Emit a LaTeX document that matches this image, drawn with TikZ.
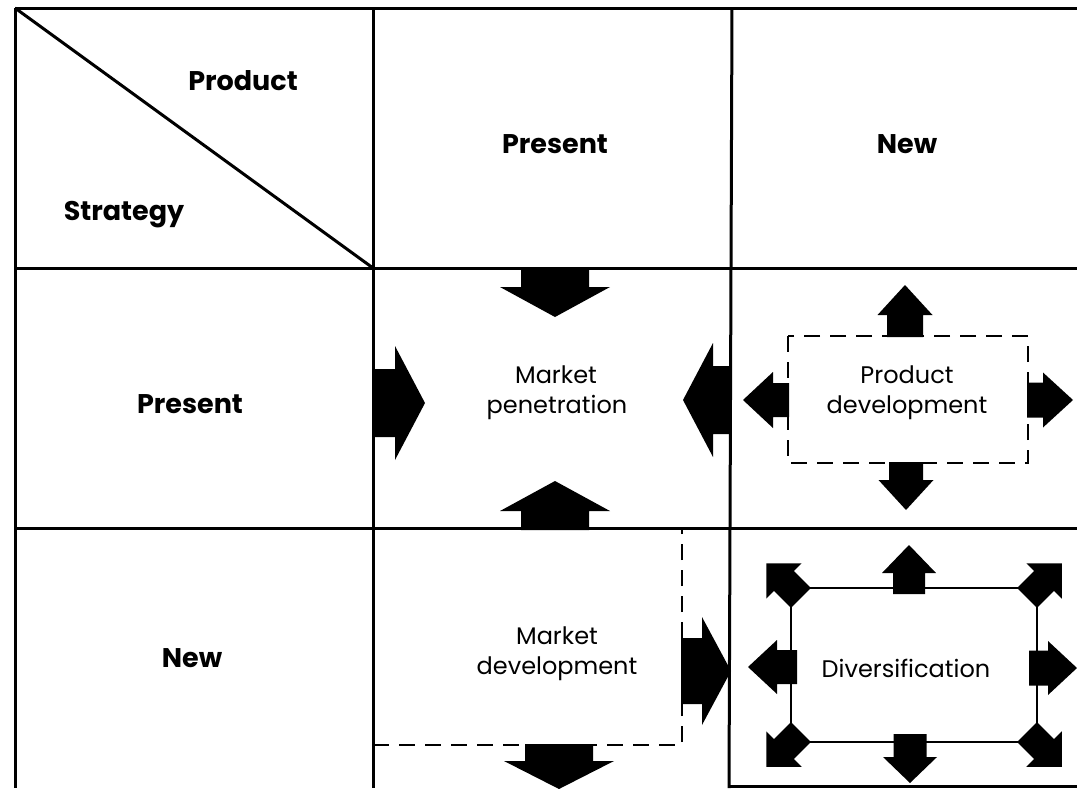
\documentclass[tikz,border=0pt]{standalone}
\usepackage{fontspec}
\setmainfont{Poppins}
\begin{document}
% Block arrow: origin, direction angle, shaft start, shaft end (= head base),
% shaft half-width, tip distance, head half-width
\newcommand\blockarr[7]{%
  \fill[arrowfill, shift={#1}, rotate=#2]
    (#3,-#5) -- (#4,-#5) -- (#4,-#7) -- (#6,0) -- (#4,#7) -- (#4,#5) -- (#3,#5) -- cycle;}
\begin{tikzpicture}[x=1pt,y=-1pt,
  grid/.style={line width=3pt},
  solidbox/.style={line width=1.6pt},
  dashbox/.style={line width=1.6pt, dash pattern=on 16pt off 10pt},
  hdr/.style={font=\fontsize{27}{30}\selectfont\bfseries, anchor=base, inner sep=0pt},
  lbl/.style={font=\fontsize{24}{30}\selectfont, anchor=base, inner sep=0pt},
  arrowfill/.style={fill=black}]
\useasboundingbox (0,0) rectangle (1077,788);

% grid corners
\coordinate (tl) at (15,8);
\coordinate (tr) at (1077,8);
\coordinate (c1t) at (373,8);
\coordinate (c2t) at (732,8);
\coordinate (r1l) at (15,268);
\coordinate (r1m) at (373,268);
\coordinate (r1r) at (1077,268);
\coordinate (r2l) at (15,528);
\coordinate (r2r) at (1077,528);
\coordinate (bl) at (15,788);
\coordinate (c1b) at (373,788);
\coordinate (c2b) at (729,788);
\coordinate (brl) at (729,786);
\coordinate (brr) at (1077,786);

% table rules
\draw[grid] (tl) -- (tr);
\draw[grid] (r1l) -- (r1r);
\draw[grid] (r2l) -- (r2r);
\draw[grid] (brl) -- (brr);
\draw[grid] (tl) -- (bl);
\draw[grid] (c1t) -- (c1b);
\draw[grid] (c2t) -- (c2b);
\draw[grid] (tl) -- (r1m);

% headings
\node[hdr] (hprod) at (243,90) {Product};
\node[hdr] (hstrat) at (124,220) {Strategy};
\node[hdr] (colpres) at (555,153) {Present};
\node[hdr] (colnew) at (907,153) {New};
\node[hdr] (rowpres) at (190,413) {Present};
\node[hdr] (rownew) at (192,667) {New};

% market penetration
\node[lbl] (mp1) at (556,383) {Market};
\node[lbl] (mp2) at (557,413) {penetration};
\blockarr{(555,268)}{270}{0}{19}{34}{49}{55}
\blockarr{(555,530)}{90}{0}{19}{34}{49}{55}
\blockarr{(373,403)}{0}{0}{22}{34}{52}{57}
\blockarr{(731,400)}{180}{0}{18}{34}{48}{57}

% product development
\coordinate (pdA) at (788,336);
\coordinate (pdB) at (1028,463);
\draw[dashbox] (pdA) rectangle (pdB);
\node[lbl] (pd1) at (907,383) {Product};
\node[lbl] (pd2) at (907,413) {development};
\blockarr{(905,337)}{90}{0}{22}{18}{52}{27.5}
\blockarr{(906,462)}{270}{0}{18}{17}{48}{27.5}
\blockarr{(789,400)}{180}{0}{16}{17}{46}{28}
\blockarr{(1027,400)}{0}{0}{16}{17.5}{46}{27.5}

% market development
\coordinate (mdA) at (373,745);
\coordinate (mdB) at (682,745);
\coordinate (mdC) at (682,530);
\draw[dashbox] (mdA) -- (mdB) -- (mdC);
\node[lbl] (md1) at (557,644) {Market};
\node[lbl] (md2) at (557,674) {development};
\blockarr{(681,671)}{0}{0}{21}{33}{50}{54}
\blockarr{(559,744)}{270}{0}{17}{34}{45}{55}

% diversification
\coordinate (dvA) at (791,588);
\coordinate (dvB) at (1037,742);
\draw[solidbox] (dvA) rectangle (dvB);
\node[lbl] (dv) at (906,677) {Diversification};
\blockarr{(909,588)}{90}{-6}{15}{16}{43}{27}
\blockarr{(910,742)}{270}{-8}{15}{16.5}{41}{27}
\blockarr{(791,667)}{180}{-6}{14}{17}{43}{27}
\blockarr{(1037,668)}{0}{-8}{11}{17.5}{40}{27}
\blockarr{(791,588)}{135}{-14}{10}{14}{35}{25}
\blockarr{(1037,588)}{45}{-14}{10}{14}{35}{25}
\blockarr{(791,742)}{225}{-14}{10}{14}{35}{25}
\blockarr{(1037,742)}{315}{-14}{10}{14}{35}{25}
\end{tikzpicture}
\end{document}
